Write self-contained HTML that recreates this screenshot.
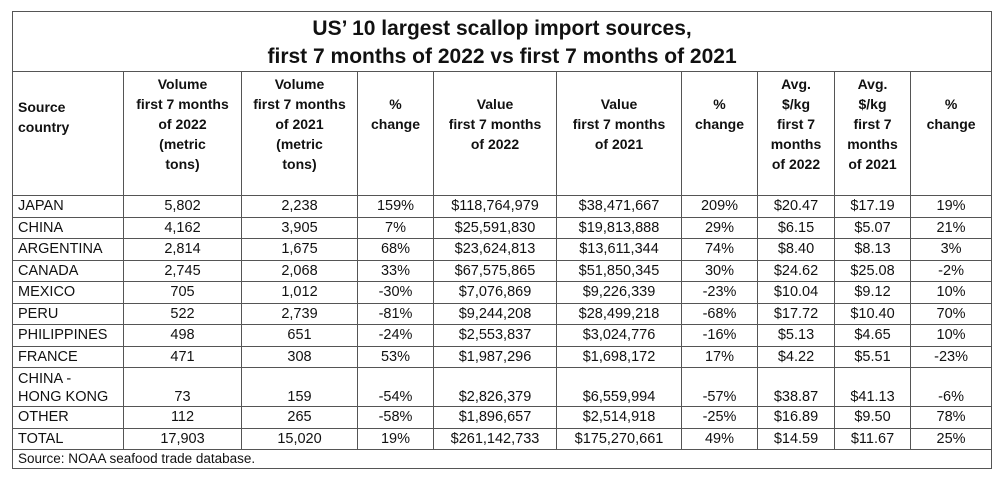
<!DOCTYPE html>
<html><head><meta charset="utf-8"><style>
html,body{margin:0;padding:0;background:#fff;width:997px;height:480px;overflow:hidden}
table{position:absolute;left:12px;top:11px;border-collapse:collapse;table-layout:fixed;width:979px;font-family:"Liberation Sans",Arial,sans-serif;font-size:14.5px;color:#111}
td{border:1px solid #555;padding:0 5px;text-align:center;white-space:nowrap;overflow:hidden}
td.l{text-align:left}
.title td{font-weight:bold;font-size:21px;line-height:28px;padding-top:2px}
.hdr td{font-weight:bold;line-height:20px;vertical-align:top;padding-top:2px;font-size:14px}
.hdr td.l{vertical-align:top;padding-top:25px}
tr.r td{height:20.5px;line-height:20px}
tr.hk td{height:38px;line-height:18px;vertical-align:bottom}
tr.src td{height:18px;line-height:18px;font-size:13.5px}
</style></head><body>
<table>
<colgroup><col style="width:111px"><col style="width:118px"><col style="width:116px"><col style="width:76px"><col style="width:123px"><col style="width:125px"><col style="width:76px"><col style="width:77px"><col style="width:76px"><col style="width:81px"></colgroup>
<tr class="title"><td colspan="10" style="height:57px">US’ 10 largest scallop import sources,<br>first 7 months of 2022 vs first 7 months of 2021</td></tr>
<tr class="hdr" style="height:124px"><td class="l">Source<br>country</td><td>Volume<br>first 7 months<br>of 2022<br>(metric<br>tons)</td><td>Volume<br>first 7 months<br>of 2021<br>(metric<br>tons)</td><td style="padding-top:22px">%<br>change</td><td style="padding-top:22px">Value<br>first 7 months<br>of 2022</td><td style="padding-top:22px">Value<br>first 7 months<br>of 2021</td><td style="padding-top:22px">%<br>change</td><td>Avg.<br>$/kg<br>first 7<br>months<br>of 2022</td><td>Avg.<br>$/kg<br>first 7<br>months<br>of 2021</td><td style="padding-top:22px">%<br>change</td></tr>
<tr class="r"><td class="l">JAPAN</td><td>5,802</td><td>2,238</td><td>159%</td><td>$118,764,979</td><td>$38,471,667</td><td>209%</td><td>$20.47</td><td>$17.19</td><td>19%</td></tr>
<tr class="r"><td class="l">CHINA</td><td>4,162</td><td>3,905</td><td>7%</td><td>$25,591,830</td><td>$19,813,888</td><td>29%</td><td>$6.15</td><td>$5.07</td><td>21%</td></tr>
<tr class="r"><td class="l">ARGENTINA</td><td>2,814</td><td>1,675</td><td>68%</td><td>$23,624,813</td><td>$13,611,344</td><td>74%</td><td>$8.40</td><td>$8.13</td><td>3%</td></tr>
<tr class="r"><td class="l">CANADA</td><td>2,745</td><td>2,068</td><td>33%</td><td>$67,575,865</td><td>$51,850,345</td><td>30%</td><td>$24.62</td><td>$25.08</td><td>-2%</td></tr>
<tr class="r"><td class="l">MEXICO</td><td>705</td><td>1,012</td><td>-30%</td><td>$7,076,869</td><td>$9,226,339</td><td>-23%</td><td>$10.04</td><td>$9.12</td><td>10%</td></tr>
<tr class="r"><td class="l">PERU</td><td>522</td><td>2,739</td><td>-81%</td><td>$9,244,208</td><td>$28,499,218</td><td>-68%</td><td>$17.72</td><td>$10.40</td><td>70%</td></tr>
<tr class="r"><td class="l">PHILIPPINES</td><td>498</td><td>651</td><td>-24%</td><td>$2,553,837</td><td>$3,024,776</td><td>-16%</td><td>$5.13</td><td>$4.65</td><td>10%</td></tr>
<tr class="r"><td class="l">FRANCE</td><td>471</td><td>308</td><td>53%</td><td>$1,987,296</td><td>$1,698,172</td><td>17%</td><td>$4.22</td><td>$5.51</td><td>-23%</td></tr>
<tr class="hk"><td class="l">CHINA -<br>HONG KONG</td><td>73</td><td>159</td><td>-54%</td><td>$2,826,379</td><td>$6,559,994</td><td>-57%</td><td>$38.87</td><td>$41.13</td><td>-6%</td></tr>
<tr class="r"><td class="l">OTHER</td><td>112</td><td>265</td><td>-58%</td><td>$1,896,657</td><td>$2,514,918</td><td>-25%</td><td>$16.89</td><td>$9.50</td><td>78%</td></tr>
<tr class="r"><td class="l">TOTAL</td><td>17,903</td><td>15,020</td><td>19%</td><td>$261,142,733</td><td>$175,270,661</td><td>49%</td><td>$14.59</td><td>$11.67</td><td>25%</td></tr>
<tr class="src"><td class="l" colspan="10">Source: NOAA seafood trade database.</td></tr>
</table>
</body></html>
